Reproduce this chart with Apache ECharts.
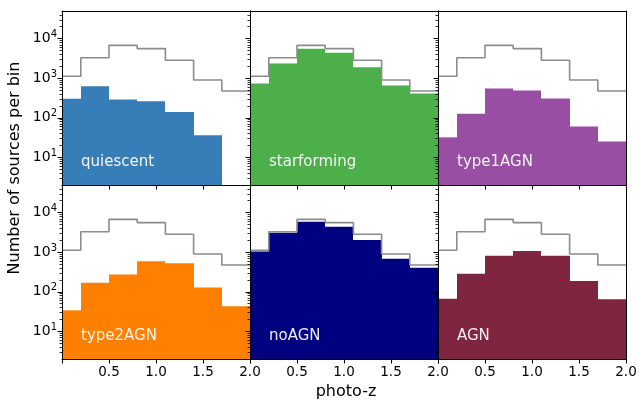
<!DOCTYPE html>
<html><head><meta charset="utf-8">
<script src="https://cdn.jsdelivr.net/npm/echarts@6/dist/echarts.min.js"></script>
<style>html,body{margin:0;padding:0;background:#fff}#chart{width:639px;height:402px}</style>
</head><body><div id="chart"></div>
<script>
// photo-z bin edges shared by every panel
const binEdges = [0, 0.2, 0.5, 0.8, 1.1, 1.4, 1.7, 2.0];
// all sources per bin (grey outline repeated in each panel)
const totalCounts = [1125, 3300, 6750, 5600, 2850, 900, 475];
// sources per bin for each class
const quiescent = [303, 631, 290, 263, 139, 36, 0];
const starforming = [735, 2355, 5550, 4400, 1900, 653, 410];
const type1AGN = [32, 126, 548, 488, 306, 60, 25];
const type2AGN = [34, 170, 275, 588, 523, 129, 43];
const noAGN = [1050, 3120, 5920, 4430, 2030, 687, 406];
const AGN = [67, 287, 818, 1070, 818, 187, 65];

const panelNames = ['quiescent', 'starforming', 'type1AGN', 'type2AGN', 'noAGN', 'AGN'];
const panelCounts = [quiescent, starforming, type1AGN, type2AGN, noAGN, AGN];
const panelColors = ['#377eb8', '#4daf4a', '#984ea3', '#ff7f00', '#000080', '#7f2540'];

const xTickValues = [0, 0.5, 1.0, 1.5, 2.0];
const xLabelValues = [0.5, 1.0, 1.5, 2.0];
const yTickValues = [10, 100, 1000, 10000];
const yRange = [2, 50000];
const xRange = [0, 2];

// log-axis minor ticks: 2..9 times each decade inside the range
const yMinorTicks = [];
for (let d = 1; d <= 10000; d *= 10) {
  for (let k = 2; k <= 9; k++) {
    const v = k * d;
    if (v > yRange[0] && v < yRange[1]) yMinorTicks.push(v);
  }
}

// panel layout (pixels)
const L0 = 62, T0 = 11, W = 188, H = 174;
const FONT = 'DejaVu Sans';

const grids = [], xAxes = [], yAxes = [], series = [], graphics = [];

// one filled rectangle per bin, snapped to whole pixels so neighbours meet cleanly
function renderBin(params, api) {
  const a = api.coord([api.value(0), api.value(2)]);
  const b = api.coord([api.value(1), yRange[0]]);
  const x0 = Math.round(a[0]), x1 = Math.round(b[0]);
  return {
    type: 'rect',
    shape: { x: x0, y: a[1], width: x1 - x0, height: b[1] - a[1] },
    style: { fill: api.visual('color') }
  };
}

const totalStep = binEdges.slice(0, -1).map((e, i) => [e, totalCounts[i]]);
totalStep.push([binEdges[binEdges.length - 1], totalCounts[totalCounts.length - 1]]);

for (let p = 0; p < 6; p++) {
  const row = Math.floor(p / 3), col = p % 3;
  const left = L0 + col * W, top = T0 + row * H;
  grids.push({ left: left, top: top, width: W, height: H, containLabel: false, outerBoundsMode: 'none' });

  const bottomRow = row === 1, firstCol = col === 0;
  const xi = xAxes.length;
  // main x axis (bottom)
  xAxes.push({
    type: 'value', gridIndex: p, position: 'bottom', min: xRange[0], max: xRange[1], z: 10,
    axisLine: { show: true, onZero: false, lineStyle: { color: '#000', width: 1 } },
    axisTick: { show: true, inside: false, length: 4.5, customValues: xTickValues, lineStyle: { color: '#000', width: 1 } },
    axisLabel: {
      show: bottomRow, customValues: xLabelValues, margin: 6, color: '#000',
      fontFamily: FONT, fontSize: 13.5, formatter: v => v.toFixed(1)
    },
    splitLine: { show: false }
  });
  // frame on top
  xAxes.push({
    type: 'value', gridIndex: p, position: 'top', min: xRange[0], max: xRange[1], z: 10,
    axisLine: { show: true, onZero: false, lineStyle: { color: '#000', width: 1 } },
    axisTick: { show: false }, axisLabel: { show: false }, splitLine: { show: false }
  });
  const yi = yAxes.length;
  // main y axis (log)
  yAxes.push({
    type: 'log', logBase: 10, gridIndex: p, position: 'left', min: yRange[0], max: yRange[1], z: 10,
    axisLine: { show: true, onZero: false, lineStyle: { color: '#000', width: 1 } },
    axisTick: { show: true, inside: false, length: 4.5, customValues: yTickValues, lineStyle: { color: '#000', width: 1 } },
    axisLabel: {
      show: firstCol, customValues: yTickValues, margin: 5, color: '#000',
      fontFamily: FONT, fontSize: 14,
      formatter: v => '10{s|' + Math.round(Math.log10(v)) + '}',
      rich: { s: { fontSize: 10, fontFamily: FONT, color: '#000', verticalAlign: 'top', padding: [0, 0, 8, 0] } }
    },
    splitLine: { show: false }, minorTick: { show: false }
  });
  // minor ticks
  yAxes.push({
    type: 'log', logBase: 10, gridIndex: p, position: 'left', offset: 0, min: yRange[0], max: yRange[1], z: 10,
    axisLine: { show: false },
    axisTick: { show: true, inside: false, length: 2.5, customValues: yMinorTicks, lineStyle: { color: '#000', width: 0.8 } },
    axisLabel: { show: false }, splitLine: { show: false }
  });
  // frame on right
  yAxes.push({
    type: 'value', gridIndex: p, position: 'right', min: 0, max: 1, z: 10,
    axisLine: { show: true, onZero: false, lineStyle: { color: '#000', width: 1 } },
    axisTick: { show: false }, axisLabel: { show: false }, splitLine: { show: false }
  });

  const counts = panelCounts[p];
  const binData = [];
  counts.forEach((c, i) => { if (c > 0) binData.push([binEdges[i], binEdges[i + 1], c]); });
  series.push({
    type: 'custom', xAxisIndex: xi, yAxisIndex: yi, renderItem: renderBin,
    encode: { x: [0, 1], y: 2 }, data: binData, itemStyle: { color: panelColors[p] },
    z: 2, silent: true, clip: true
  });
  series.push({
    type: 'line', xAxisIndex: xi, yAxisIndex: yi, data: totalStep, step: 'end',
    showSymbol: false, symbol: 'none',
    lineStyle: { color: '#8c8c8c', width: 1.6 }, z: 3, silent: true, clip: true, animation: false
  });

  graphics.push({
    type: 'text', left: left + 19, top: top + 144, z: 100,
    style: { text: panelNames[p], fill: 'rgba(255,255,255,0.92)', font: '15px "DejaVu Sans"' }
  });
}

graphics.push({
  type: 'text', x: 15, y: 168, rotation: Math.PI / 2, z: 100,
  style: { text: 'Number of sources per bin', fill: '#000', font: '16px "DejaVu Sans"', textAlign: 'center', textVerticalAlign: 'middle' }
});
graphics.push({
  type: 'text', x: 346, y: 392, z: 100,
  style: { text: 'photo-z', fill: '#000', font: '16px "DejaVu Sans"', textAlign: 'center', textVerticalAlign: 'middle' }
});

const chart = echarts.init(document.getElementById('chart'), null, { renderer: 'canvas' });
chart.setOption({
  animation: false,
  backgroundColor: '#fff',
  textStyle: { fontFamily: FONT },
  grid: grids, xAxis: xAxes, yAxis: yAxes, series: series, graphic: graphics
});
</script>
</body></html>
